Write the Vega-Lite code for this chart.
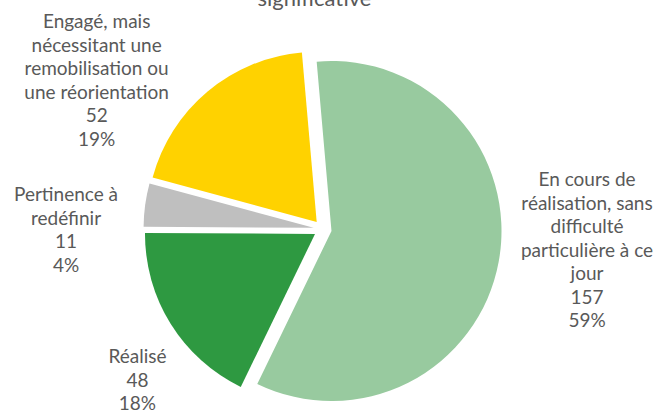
{
  "$schema": "https://vega.github.io/schema/vega-lite/v6.json",
  "width": 645,
  "height": 414,
  "autosize": "none",
  "padding": {"left": 0, "top": 22, "right": 17, "bottom": 0},
  "background": "white",
  "title": {"text": "significative", "fontSize": 22, "font": "Lato", "fontWeight": "normal", "color": "#595959", "offset": 8, "dx": -8, "dy": 23, "baseline": "alphabetic"},
  "config": {"view": {"stroke": null}},
  "data": {"values": [
    {"cat": "En cours", "ord": 1, "value": 157, "label": "En cours de\nréalisation, sans\ndifficulté\nparticulière à ce\njour\n157\n59%"},
    {"cat": "Réalisé", "ord": 2, "value": 48, "label": "Réalisé\n48\n18%"},
    {"cat": "Pertinence", "ord": 3, "value": 11, "label": "Pertinence à\nredéfinir\n11\n4%"},
    {"cat": "Engagé", "ord": 4, "value": 52, "label": "Engagé, mais\nnécessitant une\nremobilisation ou\nune réorientation\n52\n19%"}
  ]},
  "encoding": {
    "theta": {"field": "value", "type": "quantitative", "stack": true, "scale": {"range": [-0.0873, 6.1959]}},
    "order": {"field": "ord", "type": "quantitative"},
    "color": {"field": "cat", "type": "nominal", "legend": null, "scale": {"domain": ["En cours", "Réalisé", "Pertinence", "Engagé"], "range": ["#98CA9F", "#2E9941", "#BFBFBF", "#FFD200"]}}
  },
  "layer": [
    {"mark": {"type": "arc", "outerRadius": 170, "xOffset": 9, "yOffset": 2},
     "encoding": {"opacity": {"condition": {"test": "datum.cat === 'En cours'", "value": 1}, "value": 0}}},
    {"mark": {"type": "arc", "outerRadius": 170, "xOffset": -7.5, "yOffset": 5},
     "encoding": {"opacity": {"condition": {"test": "datum.cat === 'Réalisé'", "value": 1}, "value": 0}}},
    {"mark": {"type": "arc", "outerRadius": 170, "xOffset": -8.9, "yOffset": -1.2},
     "encoding": {"opacity": {"condition": {"test": "datum.cat === 'Pertinence'", "value": 1}, "value": 0}}},
    {"mark": {"type": "arc", "outerRadius": 170, "xOffset": -5.8, "yOffset": -7.1},
     "encoding": {"opacity": {"condition": {"test": "datum.cat === 'Engagé'", "value": 1}, "value": 0}}},
    {"mark": {"type": "text", "radius": 269, "thetaOffset": -0.365, "lineBreak": "\n", "font": "Lato", "fontSize": 19, "lineHeight": 23.5, "align": "center", "baseline": "middle", "color": "#595959"},
     "encoding": {"text": {"condition": {"test": "datum.cat === 'En cours'", "field": "label"}, "value": ""}, "color": {"value": "#595959"}}},
    {"mark": {"type": "text", "radius": 225, "thetaOffset": -0.049, "lineBreak": "\n", "font": "Lato", "fontSize": 19, "lineHeight": 23.5, "align": "center", "baseline": "middle", "color": "#595959"},
     "encoding": {"text": {"condition": {"test": "datum.cat === 'Réalisé'", "field": "label"}, "value": ""}, "color": {"value": "#595959"}}},
    {"mark": {"type": "text", "radius": 258.7, "thetaOffset": -0.004, "lineBreak": "\n", "font": "Lato", "fontSize": 19, "lineHeight": 23.5, "align": "center", "baseline": "middle", "color": "#595959"},
     "encoding": {"text": {"condition": {"test": "datum.cat === 'Pertinence'", "field": "label"}, "value": ""}, "color": {"value": "#595959"}}},
    {"mark": {"type": "text", "radius": 306.1, "thetaOffset": -0.133, "lineBreak": "\n", "font": "Lato", "fontSize": 19, "lineHeight": 23.5, "align": "center", "baseline": "middle", "color": "#595959"},
     "encoding": {"text": {"condition": {"test": "datum.cat === 'Engagé'", "field": "label"}, "value": ""}, "color": {"value": "#595959"}}}
  ]
}
